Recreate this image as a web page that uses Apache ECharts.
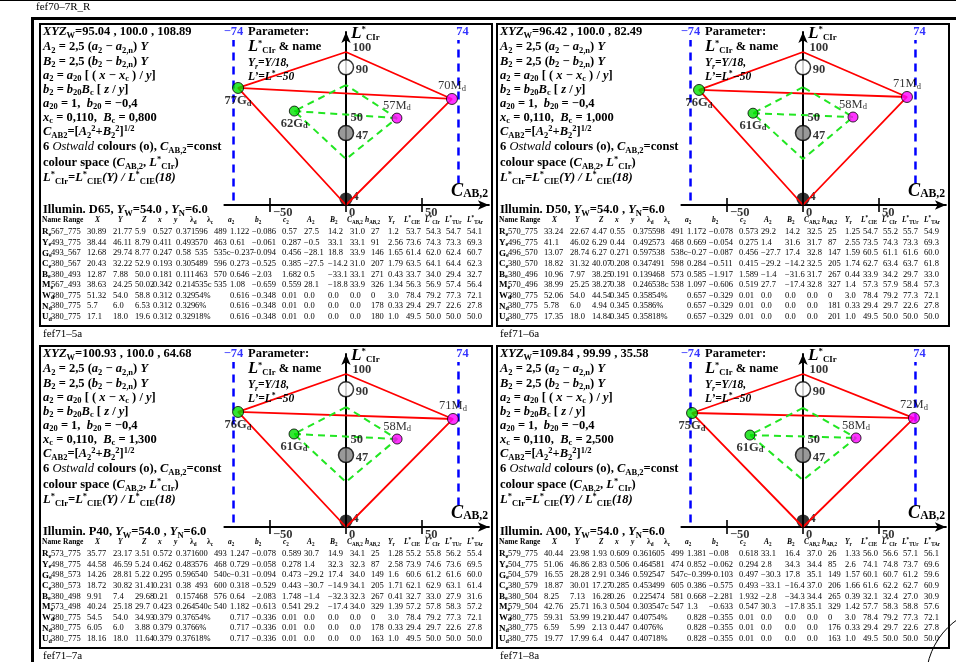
<!DOCTYPE html>
<html>
<head>
<meta charset="utf-8">
<title>fef70-7R_R</title>
<script src="https://cdn.jsdelivr.net/npm/echarts@6.0.0/dist/echarts.min.js"></script>
<style>
html,body{margin:0;padding:0;background:#fff;}
#chart{width:956px;height:662px;}
</style>
</head>
<body>
<div id="chart"></div>
<script>
// ---------------- data ----------------
const pageTitle = 'fef70–7R_R';
const panelCodes = ['fef71–5a', 'fef71–6a', 'fef71–7a', 'fef71–8a'];
const whitePoints = ['95.04 , 100.0 , 108.89', '96.42 , 100.0 , 82.49', '100.93 , 100.0 , 64.68', '109.84 , 99.99 , 35.58'];
const bcValues = ['0,800', '1,000', '1,300', '2,500'];
const illuminants = ['D65', 'D50', 'P40', 'A00'];
const chromaLimit = 74;
const xTicks = [-50, 0, 50];
const greyLevels = [90, 47, 4];          // white, grey, black on the L*CIr axis
const apexL = [100, 0];                  // top and bottom of the colour solid
const midLabel = '50';
const midLabelL = 57;
const outerGreen = [[-71, 76.5], [-68.4, 75.2], [-71, 75.2], [-73, 74.5]];
const outerGreenNames = ['77G', '76G', '76G', '75G'];
const outerMagenta = [[69.7, 69.3], [68.4, 70.6], [70.4, 70.6], [73, 71.2]];
const outerMagentaNames = ['70M', '71M', '71M', '72M'];
const innerGreen = [[-34, 61.4], [-32.9, 60.0], [-34.2, 60.8], [-34.9, 60.1]];
const innerGreenNames = ['62G', '61G', '61G', '61G'];
const innerMagenta = [[33.5, 56.8], [32.9, 57.5], [33.6, 57.5], [34.9, 58.2]];
const innerMagentaNames = ['57M', '58M', '58M', '58M'];
const innerTopL = [78.4, 77.0, 78.4, 77.8];
const innerBottomL = [30.0, 30.0, 29.4, 30.7];

const rowNames = ['R', 'Y', 'G', 'C', 'B', 'M', 'W', 'N', 'U'];
const rowSubs = ['e', 'e', 'e', 'e', 'e', 'e', 'd', 'd', 'd'];
const tableD65 = [
 ['567_775','30.89','21.77','5.9','0.527','0.371','596','489','1.122','-0.086','0.57','27.5','14.2','31.0','27','1.2','53.7','54.3','54.7','54.1'],
 ['493_775','38.44','46.11','8.79','0.411','0.493','570','463','0.61','-0.061','0.287','-0.5','33.1','33.1','91','2.56','73.6','74.3','73.3','69.3'],
 ['493_567','12.68','29.74','8.77','0.247','0.58','535','535c','-0.237','-0.094','0.456','-28.1','18.8','33.9','146','1.65','61.4','62.0','62.4','60.7'],
 ['380_567','20.43','32.22','52.9','0.193','0.305','489','596','0.273','-0.525','0.385','-27.5','-14.2','31.0','207','1.79','63.5','64.1','64.4','62.3'],
 ['380_493','12.87','7.88','50.0','0.181','0.111','463','570','0.646','-2.03','1.682','0.5','-33.1','33.1','271','0.43','33.7','34.0','29.4','32.7'],
 ['567_493','38.63','24.25','50.02','0.342','0.214','535c','535','1.08','-0.659','0.559','28.1','-18.8','33.9','326','1.34','56.3','56.9','57.4','56.4'],
 ['380_775','51.32','54.0','58.8','0.312','0.329','54%','','0.616','-0.348','0.01','0.0','0.0','0.0','0','3.0','78.4','79.2','77.3','72.1'],
 ['380_775','5.7','6.0','6.53','0.312','0.329','6%','','0.616','-0.348','0.01','0.0','0.0','0.0','178','0.33','29.4','29.7','22.6','27.8'],
 ['380_775','17.1','18.0','19.6','0.312','0.329','18%','','0.616','-0.348','0.01','0.0','0.0','0.0','180','1.0','49.5','50.0','50.0','50.0']
];
const tableD50 = [
 ['570_775','33.24','22.67','4.47','0.55','0.375','598','491','1.172','-0.078','0.573','29.2','14.2','32.5','25','1.25','54.7','55.2','55.7','54.9'],
 ['496_775','41.1','46.02','6.29','0.44','0.492','573','468','0.669','-0.054','0.275','1.4','31.6','31.7','87','2.55','73.5','74.3','73.3','69.3'],
 ['496_570','13.07','28.74','6.27','0.271','0.597','538','538c','-0.27','-0.087','0.456','-27.7','17.4','32.8','147','1.59','60.5','61.1','61.6','60.0'],
 ['380_570','18.82','31.32','40.07','0.208','0.347','491','598','0.284','-0.511','0.415','-29.2','-14.2','32.5','205','1.74','62.7','63.4','63.7','61.8'],
 ['380_496','10.96','7.97','38.25','0.191','0.139','468','573','0.585','-1.917','1.589','-1.4','-31.6','31.7','267','0.44','33.9','34.2','29.7','33.0'],
 ['570_496','38.99','25.25','38.27','0.38','0.246','538c','538','1.097','-0.606','0.519','27.7','-17.4','32.8','327','1.4','57.3','57.9','58.4','57.3'],
 ['380_775','52.06','54.0','44.54','0.345','0.358','54%','','0.657','-0.329','0.01','0.0','0.0','0.0','0','3.0','78.4','79.2','77.3','72.1'],
 ['380_775','5.78','6.0','4.94','0.345','0.358','6%','','0.657','-0.329','0.01','0.0','0.0','0.0','181','0.33','29.4','29.7','22.6','27.8'],
 ['380_775','17.35','18.0','14.84','0.345','0.358','18%','','0.657','-0.329','0.01','0.0','0.0','0.0','201','1.0','49.5','50.0','50.0','50.0']
];
const tableP40 = [
 ['573_775','35.77','23.17','3.51','0.572','0.371','600','493','1.247','-0.078','0.589','30.7','14.9','34.1','25','1.28','55.2','55.8','56.2','55.4'],
 ['498_775','44.58','46.59','5.24','0.462','0.483','576','468','0.729','-0.058','0.278','1.4','32.3','32.3','87','2.58','73.9','74.6','73.6','69.5'],
 ['498_573','14.26','28.81','5.22','0.295','0.596','540','540c','-0.31','-0.094','0.473','-29.2','17.4','34.0','149','1.6','60.6','61.2','61.6','60.0'],
 ['380_573','18.72','30.82','31.41','0.231','0.38','493','600','0.318','-0.529','0.443','-30.7','-14.9','34.1','205','1.71','62.1','62.9','63.1','61.4'],
 ['380_498','9.91','7.4','29.68','0.21','0.157','468','576','0.64','-2.083','1.748','-1.4','-32.3','32.3','267','0.41','32.7','33.0','27.9','31.6'],
 ['573_498','40.24','25.18','29.7','0.423','0.264','540c','540','1.182','-0.613','0.541','29.2','-17.4','34.0','329','1.39','57.2','57.8','58.3','57.2'],
 ['380_775','54.5','54.0','34.93','0.379','0.376','54%','','0.717','-0.336','0.01','0.0','0.0','0.0','0','3.0','78.4','79.2','77.3','72.1'],
 ['380_775','6.05','6.0','3.88','0.379','0.376','6%','','0.717','-0.336','0.01','0.0','0.0','0.0','178','0.33','29.4','29.7','22.6','27.8'],
 ['380_775','18.16','18.0','11.64','0.379','0.376','18%','','0.717','-0.336','0.01','0.0','0.0','0.0','163','1.0','49.5','50.0','50.0','50.0']
];
const tableA00 = [
 ['579_775','40.44','23.98','1.93','0.609','0.361','605','499','1.381','-0.08','0.618','33.1','16.4','37.0','26','1.33','56.0','56.6','57.1','56.1'],
 ['504_775','51.06','46.86','2.83','0.506','0.464','581','474','0.852','-0.062','0.294','2.8','34.3','34.4','85','2.6','74.1','74.8','73.7','69.6'],
 ['504_579','16.55','28.28','2.91','0.346','0.592','547','547c','-0.399','-0.103','0.497','-30.3','17.8','35.1','149','1.57','60.1','60.7','61.2','59.6'],
 ['380_579','18.87','30.01','17.27','0.285','0.453','499','605','0.386','-0.575','0.493','-33.1','-16.4','37.0','206','1.66','61.6','62.2','62.7','60.9'],
 ['380_504','8.25','7.13','16.28','0.26','0.225','474','581','0.668','-2.281','1.932','-2.8','-34.3','34.4','265','0.39','32.1','32.4','27.0','30.9'],
 ['579_504','42.76','25.71','16.3','0.504','0.303','547c','547','1.3','-0.633','0.547','30.3','-17.8','35.1','329','1.42','57.7','58.3','58.8','57.6'],
 ['380_775','59.31','53.99','19.21','0.447','0.407','54%','','0.828','-0.355','0.01','0.0','0.0','0.0','0','3.0','78.4','79.2','77.3','72.1'],
 ['380_775','6.59','5.99','2.13','0.447','0.407','6%','','0.828','-0.355','0.01','0.0','0.0','0.0','176','0.33','29.4','29.7','22.6','27.8'],
 ['380_775','19.77','17.99','6.4','0.447','0.407','18%','','0.828','-0.355','0.01','0.0','0.0','0.0','163','1.0','49.5','50.0','50.0','50.0']
];
const tables = [tableD65, tableD50, tableP40, tableA00];
const headerLabels = ['{b|Name}','{b|Range}','{bi|X}','{bi|Y}','{bi|Z}','{bi|x}','{bi|y}','{b|λ}{sb|d}','{b|λ}{sb|c}',
  '{bi|a}{sb|2}','{bi|b}{sb|2}','{bi|c}{sb|2}','{bi|A}{sb|2}','{bi|B}{sb|2}','{bi|C}{sb|AB,2}','{bi|h}{sb|AB,2}','{bi|Y}{sb|r}',
  '{bi|L}{pb|*}{sb|CIE}','{bi|L}{pb|*}{sb|CIr}','{bi|L}{pb|*}{sb|TUr}','{bi|L}{pb|*}{sb|TAr}'];

// ---------------- layout / style ----------------
const FONT = '"Liberation Serif","Times New Roman",Times,serif';
const PXU = 1.52, PYU = 1.53;
const X_MIN = -80, X_MAX = 94, Y_MIN = 0, Y_MAX = 113;
const ORIGIN_DX = 306, ORIGIN_DY = 181;
const panelPos = [[40, 24], [497, 24], [40, 346], [497, 346]];
const PANEL_W = 452, PANEL_H = 302;
const limitTopL = 107.8, limitBottomL = [3, 14];
const colX = [11,47,73,95,113,136,155,174,190,212,242,264,288,310,331,348,366,386,406,427];
const headX = [2,23,55,78,102,118,134,150,167,188,215,243,267,290,307,325,348,364,385,405,427];
const textLineY = [8, 23, 37.5, 51.5, 65.5, 79.5, 93.5, 108, 123, 139, 154];
const GREEN = '#00e000', GREEN_LINE = '#22e622', MAGENTA = '#ff00ff', RED = '#ff0000', BLUE = '#0000ff';

function tok(size, weight, fstyle, va, fill) {
  const t = {fontFamily: FONT, fontSize: size, fontWeight: weight || 'normal', fontStyle: fstyle || 'normal', verticalAlign: va || 'middle'};
  if (fill) t.fill = fill;
  return t;
}
function richSet(s) {
  const ss = +(s * 0.68).toFixed(1);
  return {
    n: tok(s), b: tok(s, 'bold'), i: tok(s, 'normal', 'italic'), bi: tok(s, 'bold', 'italic'),
    sb: tok(ss, 'bold', 'normal', 'bottom'), sbi: tok(ss, 'bold', 'italic', 'bottom'), sn: tok(ss, 'normal', 'normal', 'bottom'),
    pb: tok(ss, 'bold', 'normal', 'top'),
    L: tok(+(s * 1.32).toFixed(1), 'bold', 'italic'),
    C: tok(+(s * 1.4).toFixed(1), 'bold', 'italic'),
    sC: tok(+(s * 0.9).toFixed(1), 'bold', 'normal', 'bottom')
  };
}
function T(x, y, text, size, o) {
  o = o || {};
  return {type: 'text', x: x, y: y, z: o.z || 60, silent: true,
    style: {text: text, rich: richSet(size), fontFamily: FONT, fontSize: size, fontWeight: o.weight || 'bold',
      lineHeight: o.lh || Math.round(size * 1.3), align: o.align || 'left', verticalAlign: o.va || 'middle', fill: o.fill || '#000'}};
}
const minus = s => s.replace('-', '−');

// ---------------- graphic texts ----------------
const graphics = [];
graphics.push({type: 'rect', silent: true, shape: {x: 0, y: 0, width: 956, height: 1}, style: {fill: '#000'}});
graphics.push(T(36, 7, pageTitle, 11, {weight: 'normal'}));
graphics.push({type: 'rect', silent: true, shape: {x: 31, y: 17, width: 925, height: 3}, style: {fill: '#000'}});
graphics.push({type: 'rect', silent: true, shape: {x: 31, y: 17, width: 3, height: 645}, style: {fill: '#000'}});
graphics.push({type: 'circle', silent: true, shape: {cx: 1000, cy: 680, r: 74}, style: {fill: 'none', stroke: '#000', lineWidth: 1}});

panelPos.forEach(([px, py], p) => {
  graphics.push({type: 'rect', silent: true, z: 40, shape: {x: px, y: py, width: PANEL_W, height: PANEL_H}, style: {fill: 'none', stroke: '#000', lineWidth: 2}});
  graphics.push(T(px + 3, py + PANEL_H + 8, panelCodes[p], 11, {weight: 'normal'}));
  const lines = [
    `{bi|XYZ}{sb|W}{b|=${whitePoints[p]}}`,
    '{bi|A}{sb|2}{b| = 2,5 (}{bi|a}{sb|2}{b| − }{bi|a}{sb|2,n}{b|) }{bi|Y}',
    '{bi|B}{sb|2}{b| = 2,5 (}{bi|b}{sb|2}{b| − }{bi|b}{sb|2,n}{b|) }{bi|Y}',
    '{bi|a}{sb|2}{b| = }{bi|a}{sb|20}{b| [ ( }{bi|x}{b| − }{bi|x}{sb|c}{b| ) / }{bi|y}{b|]}',
    '{bi|b}{sb|2}{b| = }{bi|b}{sb|20}{bi|B}{sb|c}{b| [ }{bi|z}{b| / }{bi|y}{b|]}',
    '{bi|a}{sb|20}{b| = 1,  }{bi|b}{sb|20}{b| = −0,4}',
    `{bi|x}{sb|c}{b| = 0,110,  }{bi|B}{sb|c}{b| = ${bcValues[p]}}`,
    '{bi|C}{sb|AB2}{b|=[}{bi|A}{sb|2}{pb|2}{b|+}{bi|B}{sb|2}{pb|2}{b|]}{pb|1/2}',
    '{b|6 }{i|Ostwald}{b| colours (o), }{bi|C}{sb|AB,2}{b|=const}',
    '{b|colour space (}{bi|C}{sb|AB,2}{b|, }{bi|L}{pb|*}{sb|CIr}{b|)}',
    '{bi|L}{pb|*}{sb|CIr}{bi|=L}{pb|*}{sb|CIE}{bi|(Y) / L}{pb|*}{sb|CIE}{bi|(18)}'
  ];
  lines.forEach((t, k) => graphics.push(T(px + 3, py + textLineY[k], t, 12.5)));
  // parameter block
  graphics.push(T(px + 208, py + 8, '{b|Parameter:}', 12.5));
  graphics.push(T(px + 208, py + 23, '{L|L}{pb|*}{sb|CIr}{b| & name}', 12.5));
  graphics.push(T(px + 208, py + 39, '{bi|Y}{sbi|r}{bi|=Y/18,}', 11.5));
  graphics.push(T(px + 208, py + 53, '{bi|L’=L}{pb|*}{bi|−50}', 11.5));
  // axis titles
  graphics.push(T(px + 311, py + 10, '{L|L}{pb|*}{sb|CIr}', 13));
  graphics.push(T(px + 411, py + 167, '{C|C}{sC|AB,2}', 13));
  // table
  graphics.push(T(px + 3, py + 186, `{b|Illumin. ${illuminants[p]}, }{bi|Y}{sb|W}{b|=54.0 , }{bi|Y}{sb|N}{b|=6.0}`, 12.5));
  headerLabels.forEach((h, k) => graphics.push(T(px + headX[k], py + 196, h, 7.5, {lh: 10})));
  const rowTop = py + 208 - 5.3;
  graphics.push(T(px + 2, rowTop, rowNames.map((n, i) => `{b|${n}}{sb|${rowSubs[i]}}`).join('\n'), 9, {lh: 10.6, va: 'top'}));
  colX.forEach((cx, c) => {
    graphics.push(T(px + cx, rowTop, tables[p].map(r => minus(r[c])).join('\n'), 8.5, {lh: 10.6, va: 'top', weight: 'normal'}));
  });
});

// ---------------- chart ----------------
const grids = [], xAxes = [], yAxes = [], series = [];
function numLabel(text, offset, dist) {
  return {show: true, position: 'right', distance: dist == null ? 1 : dist, offset: offset || [0, 0], formatter: text,
    fontFamily: FONT, fontSize: 12.5, fontWeight: 'bold', color: '#000'};
}
function blueLabel(text, offset) {
  return {show: true, position: 'top', distance: 1, offset: offset || [0, 0], formatter: text,
    fontFamily: FONT, fontSize: 12.5, fontWeight: 'bold', color: BLUE};
}
function nameLabel(name, pos, bold) {
  const w = bold ? 'bold' : 'normal';
  return {show: true, position: pos, distance: 0, formatter: `{nm|${name}}{sub|d}`, lineHeight: 14,
    rich: {nm: {fontFamily: FONT, fontSize: 12.5, fontWeight: w, color: '#000', lineHeight: 14},
           sub: {fontFamily: FONT, fontSize: 8.5, fontWeight: w, color: '#000', lineHeight: 14, verticalAlign: 'bottom'}}};
}
const inv = {color: 'rgba(0,0,0,0)'};

panelPos.forEach(([px, py], p) => {
  const ox = px + ORIGIN_DX, oy = py + ORIGIN_DY;
  grids.push({left: ox + X_MIN * PXU, top: oy - Y_MAX * PYU, width: (X_MAX - X_MIN) * PXU, height: (Y_MAX - Y_MIN) * PYU,
    containLabel: false, outerBoundsMode: 'none'});
  const axLine = () => ({show: true, lineStyle: {color: '#000', width: 2}, symbol: ['none', 'arrow'], symbolSize: [7, 11]});
  xAxes.push({gridIndex: p, type: 'value', min: X_MIN, max: X_MAX, axisLine: Object.assign(axLine(), {onZero: false}),
    axisTick: {show: false}, axisLabel: {show: false}, splitLine: {show: false}});
  yAxes.push({gridIndex: p, type: 'value', min: Y_MIN, max: Y_MAX, axisLine: Object.assign(axLine(), {onZero: true}),
    axisTick: {show: false}, axisLabel: {show: false}, splitLine: {show: false}});
  const ax = {xAxisIndex: p, yAxisIndex: p, silent: true, animation: false};
  const G = outerGreen[p], M = outerMagenta[p], g = innerGreen[p], m = innerMagenta[p];

  // neutral circles
  series.push(Object.assign({type: 'scatter', z: 2, data: [
    {value: [0, greyLevels[0]], symbolSize: 15, itemStyle: {color: '#fff', borderColor: '#000', borderWidth: 1.5}, label: numLabel(String(greyLevels[0]), [0, 2], 1.5)},
    {value: [0, greyLevels[1]], symbolSize: 15, itemStyle: {color: '#808080', borderColor: '#000', borderWidth: 1.5}, label: numLabel(String(greyLevels[1]), [0, 3], 1.5)},
    {value: [0, greyLevels[2]], symbolSize: 13, itemStyle: {color: '#000'}, label: numLabel(String(greyLevels[2]), [0, -2], 0)}
  ]}, ax));
  // chroma limits
  [-1, 1].forEach((s, k) => series.push(Object.assign({type: 'line', z: 1, symbol: 'none',
    data: [[s * chromaLimit, limitBottomL[k]], [s * chromaLimit, limitTopL]],
    lineStyle: {color: BLUE, width: 2.5, type: [8, 6]}}, ax)));
  // outer (red) solid
  series.push(Object.assign({type: 'line', z: 3, symbol: 'none',
    data: [[0, apexL[0]], G, [0, apexL[1]], M, [0, apexL[0]]], lineStyle: {color: RED, width: 1.8}}, ax));
  series.push(Object.assign({type: 'line', z: 3, symbol: 'none', data: [G, M], lineStyle: {color: RED, width: 1.8}}, ax));
  // inner (green dashed) solid
  series.push(Object.assign({type: 'line', z: 3, symbol: 'none',
    data: [[0, innerTopL[p]], g, [0, innerBottomL[p]], m, [0, innerTopL[p]]], lineStyle: {color: GREEN_LINE, width: 2, type: [7, 5]}}, ax));
  series.push(Object.assign({type: 'line', z: 3, symbol: 'none', data: [g, m], lineStyle: {color: GREEN_LINE, width: 2, type: [7, 5]}}, ax));
  // colour points
  series.push(Object.assign({type: 'scatter', z: 5, data: [
    {value: G, symbolSize: 11, itemStyle: {color: GREEN, borderColor: '#000', borderWidth: 1}, label: nameLabel(outerGreenNames[p], 'bottom', true)},
    {value: M, symbolSize: 11, itemStyle: {color: MAGENTA, borderColor: '#000', borderWidth: 1}, label: nameLabel(outerMagentaNames[p], 'top', false)},
    {value: g, symbolSize: 10, itemStyle: {color: GREEN, borderColor: '#000', borderWidth: 1}, label: nameLabel(innerGreenNames[p], 'bottom', true)},
    {value: m, symbolSize: 10, itemStyle: {color: MAGENTA, borderColor: '#000', borderWidth: 1}, label: nameLabel(innerMagentaNames[p], 'top', false)}
  ]}, ax));
  // annotations and ticks
  const ann = [
    {value: [0, apexL[0]], symbolSize: 1, itemStyle: inv, label: numLabel(String(apexL[0]), [5, -4])},
    {value: [0, midLabelL], symbolSize: 1, itemStyle: inv, label: numLabel(midLabel, [0, 0], 4)},
    {value: [-chromaLimit, limitTopL], symbolSize: 1, itemStyle: inv, label: blueLabel('−' + chromaLimit, [0, 0])},
    {value: [chromaLimit, limitTopL], symbolSize: 1, itemStyle: inv, label: blueLabel(String(chromaLimit), [4, 0])}
  ];
  xTicks.forEach(v => ann.push({value: [v, 0], symbol: 'rect', symbolSize: [2, 14], itemStyle: {color: '#000'},
    label: numLabel(v < 0 ? '−' + (-v) : String(v), [0, 8], 2)}));
  series.push(Object.assign({type: 'scatter', z: 6, data: ann}, ax));
});

const chart = echarts.init(document.getElementById('chart'), null, {renderer: 'canvas', width: 956, height: 662});
chart.setOption({
  animation: false,
  backgroundColor: '#fff',
  grid: grids,
  xAxis: xAxes,
  yAxis: yAxes,
  series: series,
  graphic: {elements: graphics}
});
</script>
</body>
</html>
